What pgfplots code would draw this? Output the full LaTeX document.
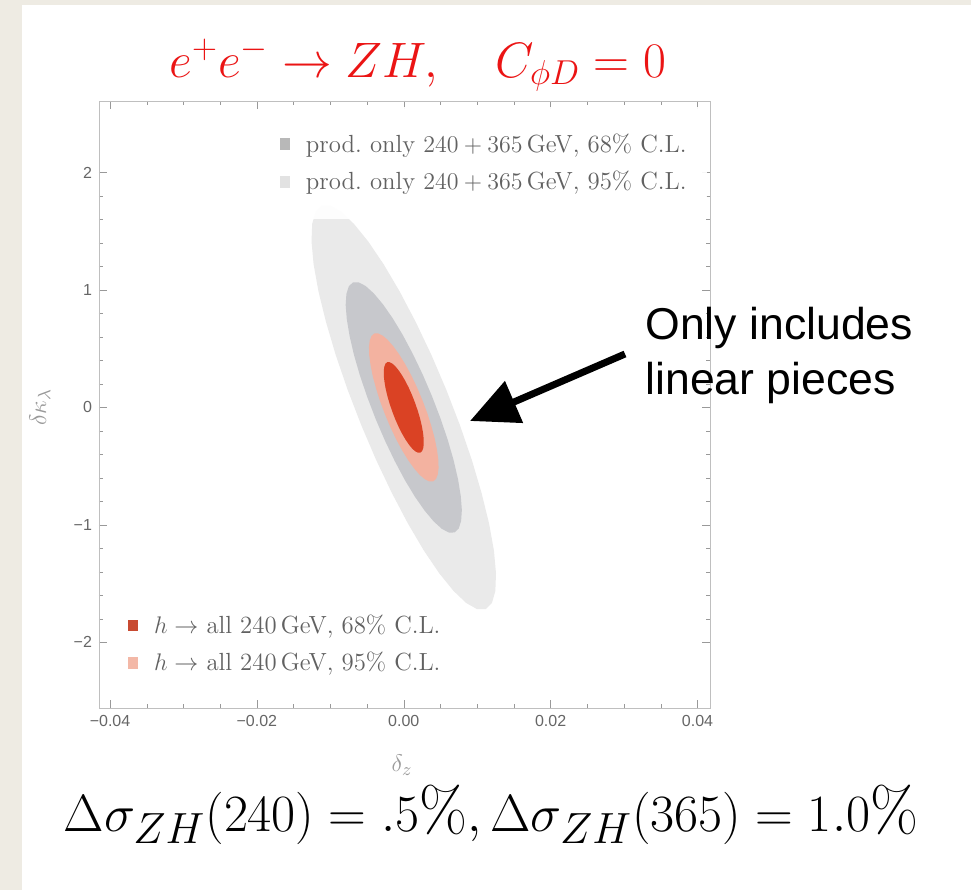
\documentclass[border=0pt]{standalone}
\usepackage{fontspec}
\usepackage{pgfplots}
\pgfplotsset{compat=1.18}
\usetikzlibrary{arrows.meta}
\newfontfamily\sansfont{Liberation Sans}
\newfontfamily\tickfont{Liberation Sans}
\definecolor{slidebg}{RGB}{238,235,227}
\definecolor{gout}{RGB}{234,234,234}
\definecolor{gin}{RGB}{199,200,204}
\definecolor{rout}{RGB}{243,178,160}
\definecolor{rin}{RGB}{218,66,36}
\definecolor{titlered}{RGB}{235,20,20}

\pgfplotsset{
  myaxis/.style={
    at={(49.5pt,91pt)}, anchor=south west,
    width=305.5pt, height=303.5pt, scale only axis,
    xmin=-0.0415, xmax=0.0417, ymin=-2.56, ymax=2.61,
    scaled x ticks=false, scaled y ticks=false,
    axis line style={black!25},
    tick style={black!40},
    tick align=inside,
    major tick length=4pt, minor tick length=2pt,
    xtick={-0.04,-0.02,0,0.02,0.04},
    xticklabels={−0.04,−0.02,0.00,0.02,0.04},
    ytick={-2,-1,0,1,2},
    yticklabels={−2,−1,0,1,2},
    minor x tick num=3, minor y tick num=4,
    ticklabel style={font=\tickfont\fontsize{8}{9}\selectfont, text=black!60},
    legend cell align=left,
    legend image code/.code={\fill[##1] (0pt,-2.9pt) rectangle (5pt,2.9pt); \path (11pt,0pt);},
  }
}

\begin{document}
\begin{tikzpicture}[x=0.5pt,y=0.5pt]
\fill[slidebg] (0,0) rectangle (971,890);
\fill[white] (22,0) rectangle (971,885);
\path[use as bounding box] (0,0) rectangle (971,890);

\begin{axis}[myaxis,
  legend style={at={(rel axis cs:0.995,0.99)}, anchor=north east,
    draw=none, fill=white, fill opacity=0.92, text opacity=1,
    font=\fontsize{12.4}{14}\selectfont, text=black!62,
    inner xsep=8pt, inner ysep=11pt, row sep=4pt},
]
% outer grey: prod. only 240+365 GeV, 95% C.L.
\addplot[fill=gout, draw=none, forget plot] coordinates {
(0.01116,-1.718) (0.01200,-1.666) (0.01247,-1.5635) (0.01256,-1.4134) (0.01228,-1.2204) (0.01162,-0.9904)
(0.01060,-0.7302) (0.00927,-0.4479) (0.00765,-0.1518) (0.0058,0.1487) (0.00378,0.4446) (0.00163,0.7273)
(-0.00056,0.9878) (-0.00273,1.2182) (-0.00482,1.4116) (-0.00677,1.5622) (-0.00850,1.6653) (-0.00998,1.7177)
(-0.01116,1.718) (-0.01200,1.666) (-0.01247,1.5635) (-0.01256,1.4134) (-0.01228,1.2204) (-0.01162,0.9904)
(-0.01060,0.7302) (-0.00927,0.4479) (-0.00765,0.1518) (-0.0058,-0.1487) (-0.00378,-0.4446) (-0.00163,-0.7273)
(0.00056,-0.9878) (0.00273,-1.2182) (0.00482,-1.4116) (0.00677,-1.5622) (0.00850,-1.6653) (0.00998,-1.7177)
} -- cycle;
% inner grey: prod. only 240+365 GeV, 68% C.L.
\addplot[fill=gin, draw=none, forget plot] coordinates {
(0.00692,-1.065) (0.00748,-1.0318) (0.00781,-0.9672) (0.00791,-0.8732) (0.00776,-0.7527) (0.00738,-0.6095)
(0.00678,-0.4475) (0.00597,-0.2720) (0.00497,-0.0883) (0.00383,0.0981) (0.00257,0.2815) (0.00123,0.4564)
(-0.00014,0.6175) (-0.00151,0.7597) (-0.00284,0.8789) (-0.00408,0.9714) (-0.00519,1.0344) (-0.00615,1.0658)
(-0.00692,1.065) (-0.00748,1.0318) (-0.00781,0.9672) (-0.00791,0.8732) (-0.00776,0.7527) (-0.00738,0.6095)
(-0.00678,0.4475) (-0.00597,0.2720) (-0.00497,0.0883) (-0.00383,-0.0981) (-0.00257,-0.2815) (-0.00123,-0.4564)
(0.00014,-0.6175) (0.00151,-0.7597) (0.00284,-0.8789) (0.00408,-0.9714) (0.00519,-1.0344) (0.00615,-1.0658)
} -- cycle;
\addlegendimage{fill=black!30, draw=none}
\addlegendentry{prod.\ only $240+365$\,GeV, 68\% C.L.}
\addlegendimage{fill=black!12, draw=none}
\addlegendentry{prod.\ only $240+365$\,GeV, 95\% C.L.}
\end{axis}

\begin{axis}[myaxis, hide axis,
  legend style={at={(rel axis cs:0.021,0.03)}, anchor=south west,
    draw=none, fill=white, fill opacity=0.92, text opacity=1,
    font=\fontsize{12.4}{14}\selectfont, text=black!62,
    inner xsep=8pt, inner ysep=5.75pt, row sep=4pt},
]
% h -> all 240 GeV, 95% C.L.
\addplot[fill=rout, draw=none, forget plot] coordinates {
(0.0040,-0.630) (0.00438,-0.6100) (0.00463,-0.5715) (0.00474,-0.5156) (0.00470,-0.4440) (0.00452,-0.3590)
(0.00421,-0.2630) (0.00376,-0.1591) (0.00321,-0.0503) (0.00255,0.060) (0.00182,0.1685) (0.00103,0.2719)
(0.00021,0.3670) (-0.00062,0.4510) (-0.00143,0.5212) (-0.00219,0.5756) (-0.00289,0.6125) (-0.00350,0.6308)
(-0.0040,0.630) (-0.00438,0.6100) (-0.00463,0.5715) (-0.00474,0.5156) (-0.00470,0.4440) (-0.00452,0.3590)
(-0.00421,0.2630) (-0.00376,0.1591) (-0.00321,0.0503) (-0.00255,-0.060) (-0.00182,-0.1685) (-0.00103,-0.2719)
(-0.00021,-0.3670) (0.00062,-0.4510) (0.00143,-0.5212) (0.00219,-0.5756) (0.00289,-0.6125) (0.00350,-0.6308)
} -- cycle;
% h -> all 240 GeV, 68% C.L.
\addplot[fill=rin, draw=none, forget plot] coordinates {
(0.00225,-0.385) (0.00249,-0.3727) (0.00264,-0.3491) (0.00272,-0.3149) (0.00272,-0.2711) (0.00263,-0.2192)
(0.00247,-0.1605) (0.00223,-0.0969) (0.00192,-0.0304) (0.00155,0.037) (0.00114,0.1032) (0.00069,0.1665)
(0.00022,0.2245) (-0.00026,0.2758) (-0.00073,0.3187) (-0.00117,0.3519) (-0.00158,0.3745) (-0.00195,0.3855)
(-0.00225,0.385) (-0.00249,0.3727) (-0.00264,0.3491) (-0.00272,0.3149) (-0.00272,0.2711) (-0.00263,0.2192)
(-0.00247,0.1605) (-0.00223,0.0969) (-0.00192,0.0304) (-0.00155,-0.037) (-0.00114,-0.1032) (-0.00069,-0.1665)
(-0.00022,-0.2245) (0.00026,-0.2758) (0.00073,-0.3187) (0.00117,-0.3519) (0.00158,-0.3745) (0.00195,-0.3855)
} -- cycle;
\addlegendimage{fill=rin!90!black, draw=none}
\addlegendentry{$h\rightarrow$ all 240\,GeV, 68\% C.L.}
\addlegendimage{fill=rout, draw=none}
\addlegendentry{$h\rightarrow$ all 240\,GeV, 95\% C.L.}
\end{axis}

% axis labels
\node[text=black!40, font=\fontsize{13}{14}\selectfont] at (402,890-765) {$\delta_{z}$};
\node[text=black!40, font=\fontsize{13}{14}\selectfont, rotate=90] at (40,890-407) {$\delta\kappa_{\lambda}$};

% title
\node[text=titlered, font=\fontsize{24.5}{28}\selectfont] at (418,890-65) {$e^+e^-\rightarrow ZH,\quad C_{\phi D}=0$};

% annotation
\draw[line width=3.5pt, -{Triangle[length=24pt,width=22pt]}] (625,890-354) -- (470,890-421);
\node[anchor=base west, inner sep=0pt, font=\sansfont\fontsize{22.3}{26}\selectfont] at (645,890-340) {Only includes};
\node[anchor=base west, inner sep=0pt, font=\sansfont\fontsize{22.3}{26}\selectfont] at (645,890-395) {linear pieces};

% bottom formula
\node[anchor=base, inner sep=0pt, scale=1.052, transform shape, font=\fontsize{29.5}{33}\selectfont] at (491,890-832) {$\Delta\sigma_{ZH}(240)=.5\%,\Delta\sigma_{ZH}(365)=1.0\%$};
\end{tikzpicture}
\end{document}
